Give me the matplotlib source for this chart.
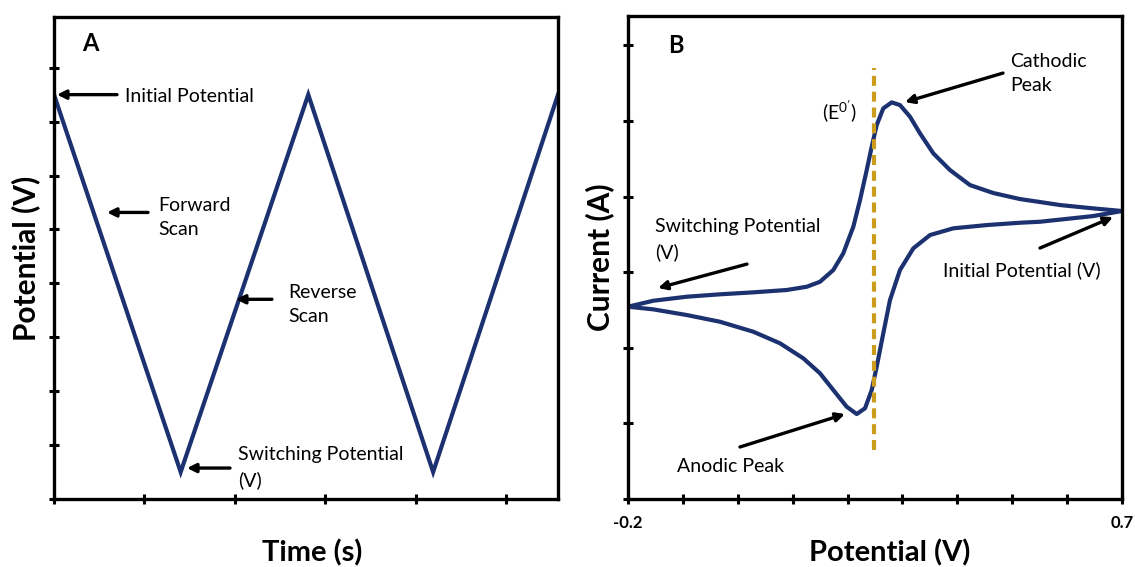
import matplotlib
matplotlib.use("Agg")
import matplotlib.pyplot as plt

# ---------------- data ----------------
# Panel A: triangular potential waveform
time_a = [0.0, 1.40, 2.81, 4.19, 5.57]
potential_a = [7.5, 0.5, 7.5, 0.5, 7.5]

# Panel B: cyclic voltammogram (upper / lower branch)
pot_upper = [-0.2, -0.1539, -0.0931, -0.0324, 0.0283, 0.0891, 0.1256, 0.1498,
             0.1740, 0.1922, 0.2105, 0.2227, 0.2349, 0.2440, 0.2531, 0.2651,
             0.2804, 0.2955, 0.3138, 0.3320, 0.3562, 0.3866, 0.4231, 0.4655,
             0.5142, 0.5506, 0.5870, 0.6417, 0.7]
cur_upper = [2.544, 2.623, 2.676, 2.708, 2.734, 2.765, 2.808, 2.874,
             3.029, 3.250, 3.602, 3.955, 4.352, 4.660, 4.947, 5.168,
             5.247, 5.212, 5.057, 4.837, 4.573, 4.352, 4.153, 4.048,
             3.968, 3.929, 3.889, 3.849, 3.810]
pot_lower = [-0.2, -0.1539, -0.0931, -0.0324, 0.0283, 0.0769, 0.1194, 0.1498,
             0.1740, 0.1984, 0.2167, 0.2318, 0.2440, 0.2531, 0.2651, 0.2773,
             0.2955, 0.3198, 0.3502, 0.3926, 0.4535, 0.5142, 0.5506, 0.6472,
             0.7]
cur_lower = [2.544, 2.509, 2.434, 2.345, 2.213, 2.060, 1.861, 1.663,
             1.442, 1.221, 1.124, 1.200, 1.442, 1.750, 2.192, 2.632,
             3.029, 3.316, 3.492, 3.581, 3.624, 3.655, 3.668, 3.743,
             3.810]
e0_potential = 0.249
e0_span = [0.65, 5.70]

xtick_vals_b = [-0.2, -0.1, 0.0, 0.1, 0.2, 0.3, 0.4, 0.5, 0.6, 0.7]
xtick_labels_b = ["-0.2", "", "", "", "", "", "", "", "", "0.7"]

# ---------------- style ----------------
FONT = "Lato"
plt.rcParams["font.family"] = [FONT, "DejaVu Sans"]
plt.rcParams["mathtext.fontset"] = "custom"
plt.rcParams["mathtext.rm"] = FONT
plt.rcParams["mathtext.it"] = FONT
plt.rcParams["mathtext.bf"] = FONT + ":bold"

NAVY = "#1b3170"
GOLD = "#cc9c1c"
ANN_FS = 14
ANN_W = "normal"
LS = 1.5

W, H = 1135, 567
fig = plt.figure(figsize=(W / 100, H / 100), dpi=100)
axA = fig.add_axes([54 / W, 1 - 499 / H, (558 - 54) / W, (499 - 17) / H])
axB = fig.add_axes([628 / W, 1 - 499 / H, (1122 - 628) / W, (499 - 16) / H])

for ax in (axA, axB):
    for sp in ax.spines.values():
        sp.set_linewidth(2.4)
    ax.tick_params(direction="inout", length=7, width=2.2, color="black")

arrow_kw = dict(arrowstyle="-|>", lw=2.4, color="black", mutation_scale=13,
                shrinkA=0, shrinkB=0)
ann = dict(fontsize=ANN_FS, fontweight=ANN_W, va="center", ha="left", linespacing=LS)

# ---------------- Panel A ----------------
axA.plot(time_a, potential_a, color=NAVY, lw=3.0, solid_joinstyle="miter")
axA.set_xlim(0, 5.57)
axA.set_ylim(0, 8.94)
axA.set_xticks(range(0, 6))
axA.set_yticks(range(0, 9))
axA.set_xticklabels([])
axA.set_yticklabels([])
axA.set_ylabel("Potential (V)", fontsize=21.5, fontweight="bold", labelpad=3)
fig.text(312 / W, 1 - 553 / H, "Time (s)", fontsize=21, fontweight="bold",
         ha="center", va="center")

axA.text(0.40, 8.44, "A", fontsize=17, fontweight="bold", ha="center", va="center")
axA.annotate("", xy=(0.033, 7.5), xytext=(0.696, 7.5), arrowprops=arrow_kw)
axA.text(0.785, 7.46, "Initial Potential", **ann)
axA.annotate("", xy=(0.586, 5.315), xytext=(1.039, 5.315), arrowprops=arrow_kw)
axA.text(1.149, 5.23, "Forward\nScan", **ann)
axA.annotate("", xy=(2.011, 3.704), xytext=(2.409, 3.704), arrowprops=arrow_kw)
axA.text(2.586, 3.61, "Reverse\nScan", **ann)
axA.annotate("", xy=(1.470, 0.574), xytext=(1.945, 0.574), arrowprops=arrow_kw)
axA.text(2.033, 0.583, "Switching Potential\n(V)", **ann)

# ---------------- Panel B ----------------
axB.plot(pot_upper, cur_upper, color=NAVY, lw=3.0, solid_joinstyle="round", solid_capstyle="round")
axB.plot(pot_lower, cur_lower, color=NAVY, lw=3.0, solid_joinstyle="round", solid_capstyle="round")
axB.plot([e0_potential, e0_potential], e0_span, color=GOLD, lw=3.0, linestyle=(0, (2.4, 1.4)))
axB.set_xlim(-0.2, 0.7)
axB.set_ylim(0, 6.39)
axB.set_xticks(xtick_vals_b)
axB.set_xticklabels(xtick_labels_b, fontsize=12, fontweight="bold")
axB.set_yticks(range(0, 7))
axB.set_yticklabels([])
axB.tick_params(axis="x", pad=8)
axB.set_ylabel("Current (A)", fontsize=21.5, fontweight="bold", labelpad=3)
fig.text(890 / W, 1 - 553 / H, "Potential (V)", fontsize=21, fontweight="bold",
         ha="center", va="center")

axB.text(-0.1126, 6.0, "B", fontsize=17, fontweight="bold", ha="center", va="center")
axB.annotate("", xy=(0.3046, 5.251), xytext=(0.4832, 5.635), arrowprops=arrow_kw)
axB.text(0.496, 5.628, "Cathodic\nPeak", **ann)
axB.text(0.1862, 5.119, r"(E$^{\mathregular{0'}}$)", fontsize=ANN_FS,
         fontweight=ANN_W, va="center", ha="center")
axB.annotate("", xy=(-0.1453, 2.791), xytext=(0.0168, 3.108), arrowprops=arrow_kw)
axB.text(-0.1508, 3.432, "Switching Potential\n(V)", **ann)
axB.annotate("", xy=(0.6836, 3.730), xytext=(0.5506, 3.320), arrowprops=arrow_kw)
axB.text(0.3739, 3.029, "Initial Potential (V)", **ann)
axB.annotate("", xy=(0.1953, 1.124), xytext=(0.004, 0.688), arrowprops=arrow_kw)
axB.text(-0.1107, 0.4365, "Anodic Peak", **ann)

fig.savefig("out.png", dpi=100)
